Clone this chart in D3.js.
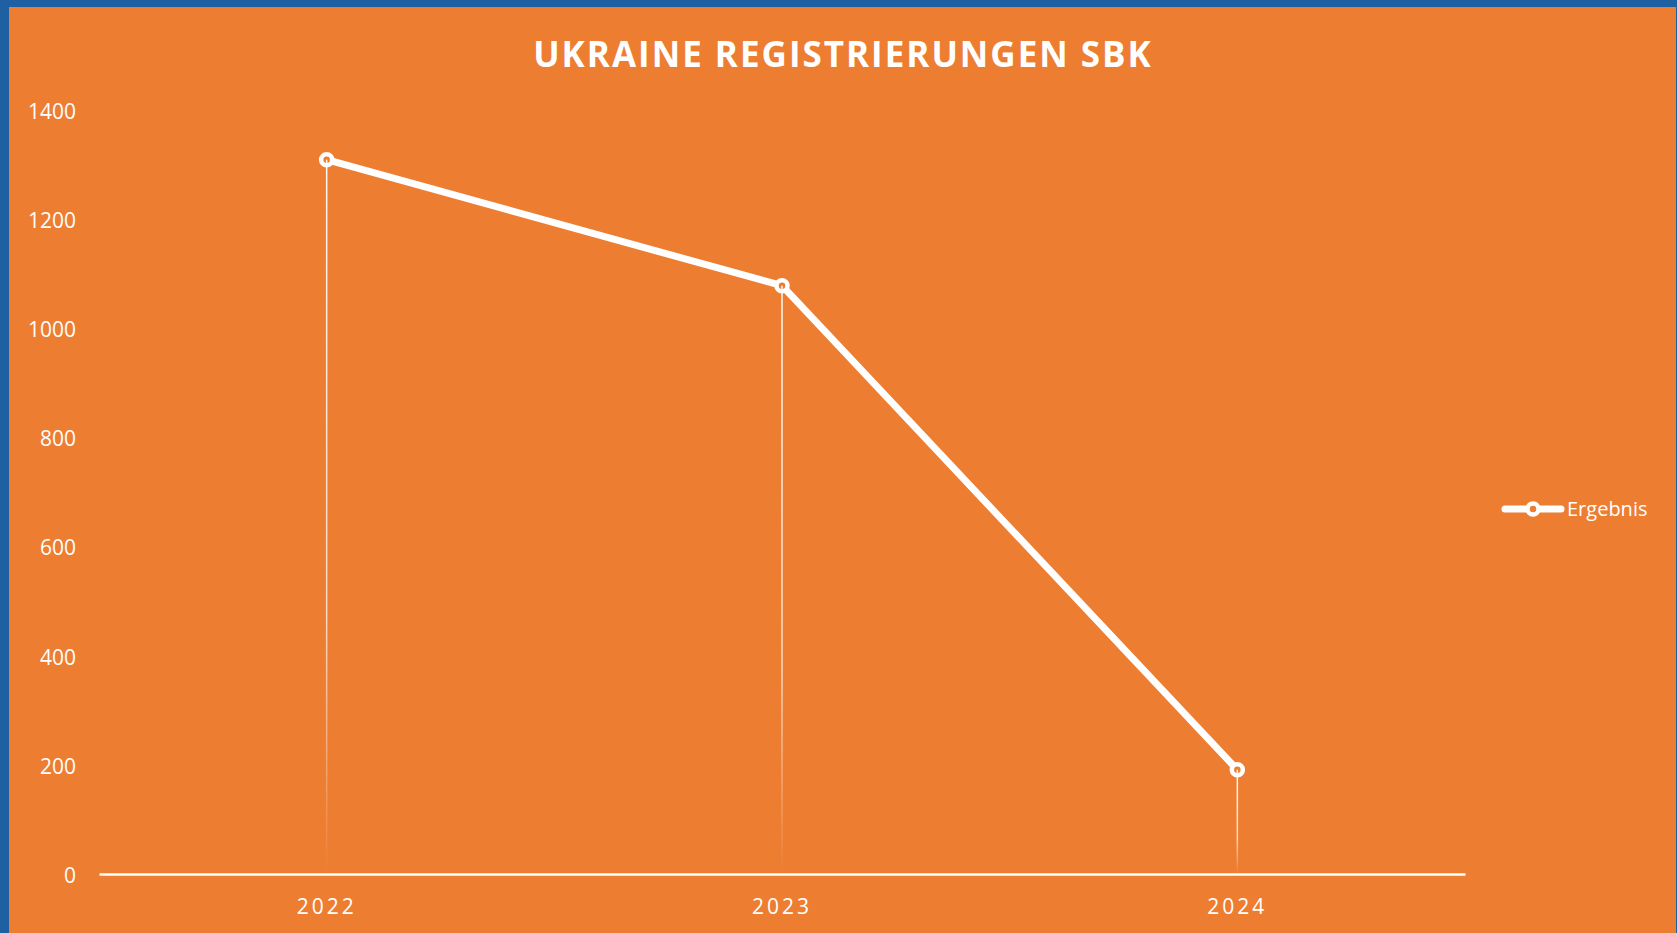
<!DOCTYPE html>
<html lang="de">
  <head>
    <meta charset="utf-8">
    <title>Ukraine Registrierungen SBK</title>
    <script src="https://cdnjs.cloudflare.com/ajax/libs/d3/7.8.5/d3.min.js"></script>
<style>
  html, body {
    margin: 0;
    padding: 0;
    background: #1f60a3;
  }
  #graph {
    width: 1677px;
    height: 933px;
  }
  text {
    font-family: "Open Sans", sans-serif;
    fill: #ffffff;
  }
</style>
  </head>
  <body>
<div id='graph'></div>

<script type="text/javascript">
    // data
    const years = ["2022", "2023", "2024"];
    const values = [1309, 1078, 191];
    const yTicks = [0, 200, 400, 600, 800, 1000, 1200, 1400];
    const seriesName = "Ergebnis";
    const title = "UKRAINE REGISTRIERUNGEN SBK";

    const w = 1677;
    const h = 933;
    const orange = "#ed7d31";

    const svg = d3.select("#graph")
                  .append("svg")
                  .attr("width", w)
                  .attr("height", h);

    // orange chart area inside the blue frame
    svg.append("rect")
       .attr("x", 9)
       .attr("y", 7)
       .attr("width", w - 10)
       .attr("height", h - 7)
       .style("fill", orange);

    const defs = svg.append("defs");
    const grad = defs.append("linearGradient")
       .attr("id", "dropfade")
       .attr("x1", 0).attr("y1", 0)
       .attr("x2", 0).attr("y2", 1);
    grad.append("stop").attr("offset", "0%").attr("stop-color", "#fff").attr("stop-opacity", 0.95);
    grad.append("stop").attr("offset", "65%").attr("stop-color", "#fff").attr("stop-opacity", 0.7);
    grad.append("stop").attr("offset", "100%").attr("stop-color", "#fff").attr("stop-opacity", 0);

    const xScale = d3.scaleBand()
                     .domain(years)
                     .range([99, 1465]);
    const yScale = d3.scaleLinear()
                     .domain([0, 1400])
                     .range([874, 110]);
    const cx = d => xScale(d) + xScale.bandwidth() / 2;

    // title
    svg.append("text")
       .attr("x", 843)
       .attr("y", 58)
       .attr("text-anchor", "middle")
       .attr("dominant-baseline", "middle")
       .style("font-size", "35px")
       .style("font-weight", "700")
       .style("letter-spacing", "2px")
       .text(title);

    // y axis labels
    const yAxis = d3.axisLeft(yScale)
                    .tickValues(yTicks)
                    .tickFormat(d3.format("d"))
                    .tickSize(0)
                    .tickPadding(23);
    const gy = svg.append("g")
       .attr("transform", "translate(99,0)")
       .call(yAxis);
    gy.select(".domain").remove();
    gy.selectAll("text")
       .attr("dy", "0.4em")
       .style("font-size", "21px")
       .style("font-family", "'Open Sans', sans-serif")
       .attr("fill", "#fff");

    // x axis
    const xAxis = d3.axisBottom(xScale)
                    .tickSize(0)
                    .tickSizeOuter(0);
    const gx = svg.append("g")
       .attr("transform", "translate(0,874)")
       .call(xAxis);
    gx.select(".domain")
       .attr("stroke", "#fff")
       .attr("stroke-width", 2.5);
    gx.selectAll("text")
       .attr("y", 33)
       .attr("dy", "0.35em")
       .style("font-size", "21px")
       .style("letter-spacing", "3px")
       .style("font-family", "'Open Sans', sans-serif")
       .attr("fill", "#fff");

    // the line
    const line = d3.line()
                   .x((d, i) => cx(years[i]))
                   .y(d => yScale(d));
    svg.append("path")
       .datum(values)
       .attr("d", line)
       .attr("fill", "none")
       .attr("stroke", "#fff")
       .attr("stroke-width", 7)
       .attr("stroke-linejoin", "round");

    svg.selectAll(".dot")
       .data(values)
       .enter()
       .append("circle")
       .attr("class", "dot")
       .attr("cx", (d, i) => cx(years[i]))
       .attr("cy", d => yScale(d))
       .attr("r", 5.5)
       .attr("fill", orange)
       .attr("stroke", "#fff")
       .attr("stroke-width", 4.5);

    // drop lines, fading towards the axis
    svg.selectAll(".drop")
       .data(values)
       .enter()
       .append("rect")
       .attr("class", "drop")
       .attr("x", (d, i) => cx(years[i]) - 0.75)
       .attr("y", d => yScale(d))
       .attr("width", 1.5)
       .attr("height", d => yScale(0) - yScale(d))
       .attr("fill", "url(#dropfade)");

    // legend
    const lg = svg.append("g").attr("transform", "translate(1505,509)");
    lg.append("line")
       .attr("x1", 0).attr("x2", 56)
       .attr("stroke", "#fff")
       .attr("stroke-width", 7)
       .attr("stroke-linecap", "round");
    lg.append("circle")
       .attr("cx", 28)
       .attr("r", 5.5)
       .attr("fill", orange)
       .attr("stroke", "#fff")
       .attr("stroke-width", 4.5);
    lg.append("text")
       .attr("x", 62)
       .attr("dy", "0.35em")
       .style("font-size", "20px")
       .text(seriesName);
</script>
</body>
</html>
